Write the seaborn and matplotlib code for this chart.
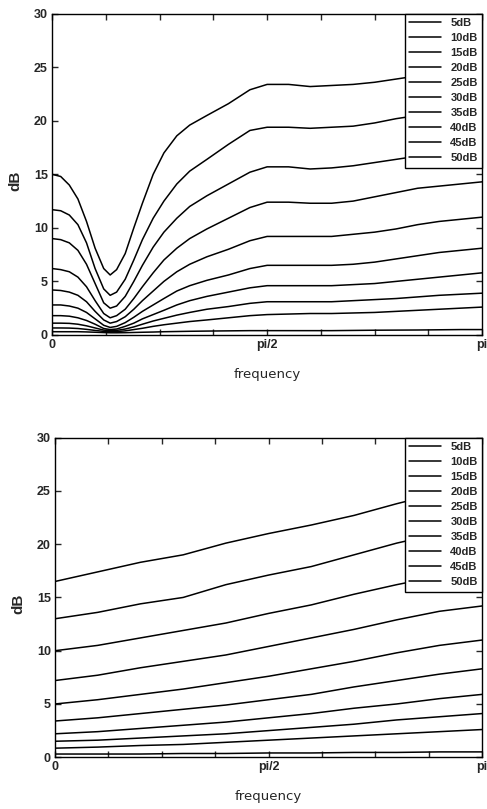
import numpy as np
import pandas as pd
import matplotlib
matplotlib.use("Agg")
import matplotlib.pyplot as plt
import seaborn as sns

levels = ["5dB", "10dB", "15dB", "20dB", "25dB", "30dB", "35dB", "40dB", "45dB", "50dB"]

# top panel: frequency as fraction of pi
top_x = [0, 0.02, 0.04, 0.06, 0.08, 0.10, 0.12, 0.135, 0.15, 0.17, 0.19, 0.21, 0.235, 0.26, 0.29,
         0.32, 0.36, 0.41, 0.46, 0.5, 0.55, 0.6, 0.65, 0.7, 0.75, 0.8, 0.85, 0.9, 0.95, 1.0]
top_5 = [0.3, 0.3, 0.3, 0.3, 0.28, 0.25, 0.22, 0.2, 0.2, 0.21, 0.23, 0.25, 0.27, 0.3, 0.32,
         0.34, 0.36, 0.38, 0.4, 0.4, 0.4, 0.4, 0.4, 0.42, 0.44, 0.45, 0.46, 0.48, 0.5, 0.5]
top_10 = [0.65, 0.65, 0.64, 0.6, 0.52, 0.42, 0.33, 0.3, 0.31, 0.38, 0.5, 0.62, 0.8, 0.95, 1.1,
          1.25, 1.4, 1.6, 1.8, 1.9, 1.95, 2.0, 2.0, 2.05, 2.1, 2.2, 2.3, 2.4, 2.5, 2.6]
top_15 = [1.1, 1.1, 1.08, 1.0, 0.85, 0.65, 0.45, 0.4, 0.42, 0.55, 0.75, 1.0, 1.3, 1.55, 1.85,
          2.1, 2.4, 2.65, 2.95, 3.1, 3.1, 3.1, 3.1, 3.2, 3.3, 3.4, 3.55, 3.7, 3.8, 3.9]
top_20 = [1.8, 1.8, 1.75, 1.6, 1.35, 1.0, 0.6, 0.5, 0.55, 0.8, 1.1, 1.5, 1.9, 2.3, 2.8,
          3.2, 3.6, 4.0, 4.4, 4.6, 4.6, 4.6, 4.6, 4.7, 4.8, 5.0, 5.2, 5.4, 5.6, 5.8]
top_25 = [2.8, 2.8, 2.7, 2.5, 2.1, 1.5, 0.9, 0.7, 0.8, 1.15, 1.65, 2.2, 2.8, 3.4, 4.1,
          4.6, 5.1, 5.6, 6.2, 6.5, 6.5, 6.5, 6.5, 6.6, 6.8, 7.1, 7.4, 7.7, 7.9, 8.1]
top_30 = [4.2, 4.15, 4.0, 3.7, 3.1, 2.2, 1.4, 1.1, 1.25, 1.7, 2.4, 3.2, 4.1, 5.0, 5.9,
          6.6, 7.3, 8.0, 8.8, 9.2, 9.2, 9.2, 9.2, 9.4, 9.6, 9.9, 10.3, 10.6, 10.8, 11.0]
top_35 = [6.2, 6.1, 5.9, 5.4, 4.5, 3.2, 2.0, 1.6, 1.8, 2.4, 3.4, 4.5, 5.8, 7.0, 8.1,
          9.0, 9.9, 10.9, 11.9, 12.4, 12.4, 12.3, 12.3, 12.5, 12.9, 13.3, 13.7, 13.9, 14.1, 14.3]
top_40 = [9.0, 8.9, 8.6, 7.9, 6.6, 4.8, 3.0, 2.5, 2.7, 3.6, 5.0, 6.5, 8.2, 9.6, 10.9,
          12.0, 13.0, 14.1, 15.2, 15.7, 15.7, 15.5, 15.6, 15.8, 16.1, 16.4, 16.7, 17.0, 17.3, 17.6]
top_45 = [11.7, 11.6, 11.2, 10.3, 8.6, 6.2, 4.3, 3.7, 4.0, 5.2, 7.0, 8.9, 10.9, 12.5, 14.1,
          15.3, 16.4, 17.8, 19.1, 19.4, 19.4, 19.3, 19.4, 19.5, 19.8, 20.2, 20.5, 20.8, 21.1, 21.4]
top_50 = [15.0, 14.8, 14.0, 12.7, 10.6, 8.1, 6.2, 5.6, 6.1, 7.6, 10.0, 12.3, 15.0, 17.0, 18.6,
          19.6, 20.5, 21.6, 22.9, 23.4, 23.4, 23.2, 23.3, 23.4, 23.6, 23.9, 24.2, 24.5, 24.7, 24.9]

# bottom panel
bot_x = [0, 0.1, 0.2, 0.3, 0.4, 0.5, 0.6, 0.7, 0.8, 0.9, 1.0]
bot_5 = [0.3, 0.3, 0.3, 0.35, 0.35, 0.4, 0.4, 0.45, 0.45, 0.5, 0.5]
bot_10 = [0.85, 0.95, 1.1, 1.2, 1.4, 1.6, 1.8, 2.0, 2.2, 2.4, 2.6]
bot_15 = [1.5, 1.6, 1.8, 2.0, 2.2, 2.5, 2.8, 3.1, 3.5, 3.8, 4.1]
bot_20 = [2.2, 2.4, 2.7, 3.0, 3.3, 3.7, 4.1, 4.6, 5.0, 5.5, 5.9]
bot_25 = [3.4, 3.7, 4.1, 4.5, 4.9, 5.4, 5.9, 6.6, 7.2, 7.8, 8.3]
bot_30 = [5.0, 5.4, 5.9, 6.4, 7.0, 7.6, 8.3, 9.0, 9.8, 10.5, 11.0]
bot_35 = [7.2, 7.7, 8.4, 9.0, 9.6, 10.4, 11.2, 12.0, 12.9, 13.7, 14.2]
bot_40 = [10.0, 10.5, 11.2, 11.9, 12.6, 13.5, 14.3, 15.3, 16.2, 17.0, 17.6]
bot_45 = [13.0, 13.6, 14.4, 15.0, 16.2, 17.1, 17.9, 19.0, 20.1, 21.0, 21.8]
bot_50 = [16.5, 17.4, 18.3, 19.0, 20.1, 21.0, 21.8, 22.7, 23.8, 24.8, 25.6]

y_ticks = [0, 5, 10, 15, 20, 25, 30]
x_tick_labels = ["0", "", "", "", "pi/2", "", "", "", "pi"]

top_series = [top_5, top_10, top_15, top_20, top_25, top_30, top_35, top_40, top_45, top_50]
bot_series = [bot_5, bot_10, bot_15, bot_20, bot_25, bot_30, bot_35, bot_40, bot_45, bot_50]


def to_df(xs, series):
    rows = []
    for lvl, ys in zip(levels, series):
        for xf, y in zip(xs, ys):
            rows.append({"freq": xf * np.pi, "dB": y, "level": lvl})
    return pd.DataFrame(rows)


sns.set_style("ticks")
plt.rcParams["font.family"] = ["Liberation Sans", "DejaVu Sans"]

fig = plt.figure(figsize=(4.87, 8.09), dpi=100)
ax_top = fig.add_axes([0.107, 0.586, 0.883, 0.397])
ax_bot = fig.add_axes([0.113, 0.064, 0.877, 0.395])

for ax, xs, series in [(ax_top, top_x, top_series), (ax_bot, bot_x, bot_series)]:
    df = to_df(xs, series)
    sns.lineplot(data=df, x="freq", y="dB", hue="level", hue_order=levels,
                 palette=["black"] * len(levels), linewidth=1.1, ax=ax,
                 legend=True, estimator=None, sort=False)
    handles, labels = ax.get_legend_handles_labels()
    leg = ax.legend(handles, labels, loc="upper right", frameon=True, fancybox=False,
                    edgecolor="black", framealpha=1, prop={"size": 8, "weight": "bold"},
                    handlelength=2.9, handletextpad=0.8, labelspacing=0.45,
                    borderpad=0.4, borderaxespad=0.0)
    leg.get_frame().set_linewidth(1.0)
    ax.set_xlim(0, np.pi)
    ax.set_ylim(0, 30)
    ax.set_xticks(np.arange(9) * np.pi / 8)
    ax.set_xticklabels(x_tick_labels, fontsize=9, fontweight="bold")
    ax.set_yticks(y_ticks)
    ax.set_yticklabels([str(t) for t in y_ticks], fontsize=9, fontweight="bold")
    ax.tick_params(direction="in", length=4, width=1, top=True, right=True, pad=3)
    for s in ax.spines.values():
        s.set_visible(True)
        s.set_linewidth(1.0)
        s.set_color("black")
    ax.set_ylabel("dB", fontsize=11, fontweight="bold")
    ax.yaxis.set_label_coords(-0.07, 0.48)
    ax.set_xlabel("frequency", fontsize=9.5, family="DejaVu Sans", labelpad=12)

fig.savefig("out.png", dpi=100)
